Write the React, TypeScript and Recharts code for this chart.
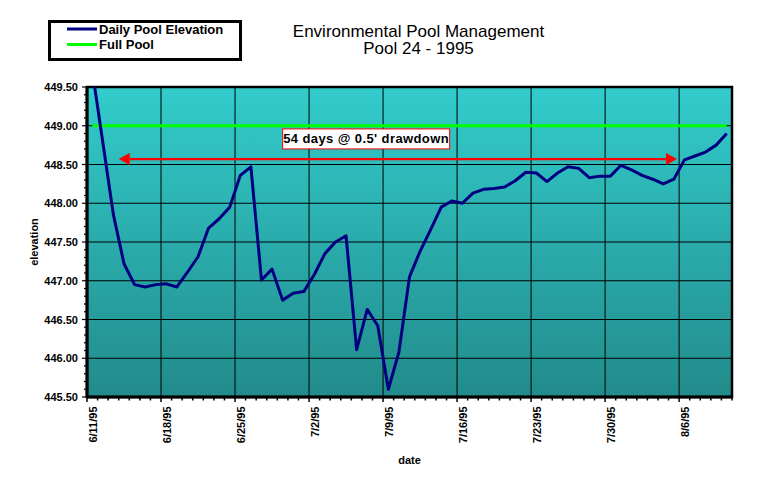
import {
  CartesianGrid,
  Label,
  Legend,
  Line,
  LineChart,
  ReferenceArea,
  ReferenceDot,
  ReferenceLine,
  XAxis,
  YAxis,
} from "recharts";

const FONT = "'Liberation Sans', Arial, Helvetica, sans-serif";

// one reading per day, starting 6/11/95
const elevation = [
  449.71, 448.78, 447.85, 447.22, 446.95, 446.92, 446.95, 446.96, 446.92, 447.11,
  447.31, 447.68, 447.8, 447.95, 448.36, 448.47, 447.01, 447.15, 446.75, 446.84,
  446.86, 447.08, 447.35, 447.5, 447.58, 446.11, 446.63, 446.42, 445.6, 446.08,
  447.05, 447.38, 447.66, 447.95, 448.03, 448.0, 448.13, 448.18, 448.19, 448.21,
  448.29, 448.4, 448.39, 448.28, 448.39, 448.47, 448.45, 448.33, 448.35, 448.35,
  448.49, 448.43, 448.36, 448.31, 448.25, 448.31, 448.56, 448.61, 448.66, 448.75,
  448.9,
];
const FULL_POOL = 449.0;

const dateLabels = [
  "6/11/95", "6/18/95", "6/25/95", "7/2/95", "7/9/95",
  "7/16/95", "7/23/95", "7/30/95", "8/6/95",
];
const xMajorTicks = [0, 7, 14, 21, 28, 35, 42, 49, 56];
const xDayTicks = Array.from({ length: 62 }, (_, i) => i);

const yMajorTicks = [445.5, 446, 446.5, 447, 447.5, 448, 448.5, 449, 449.5];
const yMinorTicks = Array.from({ length: 41 }, (_, i) => (4455 + i) / 10);

// drawdown annotation
const arrowFrom = 3;
const arrowTo = 55.8;
const arrowLevel = 448.57;
const noteText = "54 days @ 0.5' drawdown";
const noteDay = 26.4;
const noteLevel = 448.83;

// readings are plotted at mid-day
const data = elevation.map((v, i) => ({
  day: i + 0.5,
  elevation: v,
  fullPool: FULL_POOL,
}));

function XTick({ x, y, payload }: any) {
  const idx = xMajorTicks.indexOf(payload.value);
  const major = idx >= 0;
  const ax = x + 9.5;
  const ay = y + 9.5;
  return (
    <g>
      <line x1={x} y1={y} x2={x} y2={y + (major ? 5 : 3.5)} stroke="#000" strokeWidth={1.5} />
      {major && (
        <text
          x={ax}
          y={ay}
          transform={`rotate(-90 ${ax} ${ay})`}
          textAnchor="end"
          fontSize={11}
          fontWeight="bold"
          fontFamily={FONT}
          fill="#000"
        >
          {dateLabels[idx]}
        </text>
      )}
    </g>
  );
}

function YTick({ x, y, payload }: any) {
  const v = payload.value as number;
  const major = yMajorTicks.some((t) => Math.abs(t - v) < 1e-6);
  return (
    <g>
      <line x1={x - (major ? 5 : 3)} y1={y} x2={x} y2={y} stroke="#000" strokeWidth={1.2} />
      {major && (
        <text
          x={x - 9}
          y={y + 4}
          textAnchor="end"
          fontSize={11}
          fontWeight="bold"
          fontFamily={FONT}
          fill="#000"
        >
          {v.toFixed(2)}
        </text>
      )}
    </g>
  );
}

function DrawdownArrow(p: any) {
  const { x1, y1, x2, y2 } = p;
  const head = 11;
  const half = 6;
  return (
    <g>
      <line x1={x1 + head} y1={y1} x2={x2 - head} y2={y2} stroke="#FF0000" strokeWidth={2.2} />
      <polygon points={`${x1},${y1} ${x1 + head},${y1 - half} ${x1 + head},${y1 + half}`} fill="#FF0000" />
      <polygon points={`${x2},${y2} ${x2 - head},${y2 - half} ${x2 - head},${y2 + half}`} fill="#FF0000" />
    </g>
  );
}

function NoteBox(p: any) {
  const { cx, cy } = p;
  return (
    <g>
      <rect x={cx - 83.5} y={cy - 10} width={167} height={20} fill="#fff" stroke="#FF0000" strokeWidth={1} />
      <text
        x={cx}
        y={cy + 4.5}
        textAnchor="middle"
        fontSize={13}
        fontWeight="bold"
        fontFamily={FONT}
        letterSpacing={0.4}
        fill="#000"
      >
        {noteText}
      </text>
    </g>
  );
}

function LegendBox() {
  return (
    <svg width={194} height={41} style={{ display: "block" }}>
      <rect x={1.5} y={1.5} width={191} height={38} fill="#fff" stroke="#000" strokeWidth={3} />
      <line x1={19} y1={9} x2={49} y2={9} stroke="#000080" strokeWidth={3} />
      <line x1={19} y1={24.5} x2={49} y2={24.5} stroke="#00FF00" strokeWidth={3} />
      <text x={51} y={14} fontSize={13} fontWeight="bold" fontFamily={FONT} fill="#000">
        Daily Pool Elevation
      </text>
      <text x={51} y={29.3} fontSize={13} fontWeight="bold" fontFamily={FONT} fill="#000">
        Full Pool
      </text>
    </svg>
  );
}

export default function App() {
  return (
    <div style={{ position: "relative", width: 769, height: 481, background: "#fff" }}>
      <style>{"body{margin:0}"}</style>
      <svg
        width={769}
        height={70}
        style={{ position: "absolute", left: 0, top: 0, pointerEvents: "none" }}
      >
        <text x={418.5} y={36.5} textAnchor="middle" fontSize={17} fontFamily={FONT} fill="#000">
          Environmental Pool Management
        </text>
        <text x={418.5} y={54.3} textAnchor="middle" fontSize={17} fontFamily={FONT} fill="#000">
          Pool 24 - 1995
        </text>
      </svg>
      <LineChart
        width={769}
        height={481}
        data={data}
        margin={{ top: 87, right: 37, bottom: 0, left: 0 }}
      >
        <defs>
          <linearGradient id="plotBg" x1="0" y1="0" x2="0" y2="1">
            <stop offset="0%" stopColor="#33CCCC" />
            <stop offset="100%" stopColor="#228B8B" />
          </linearGradient>
        </defs>
        <CartesianGrid
          stroke="#000"
          strokeWidth={1}
          fill="url(#plotBg)"
          fillOpacity={1}
          horizontalValues={yMajorTicks}
          verticalValues={xMajorTicks}
        />
        <XAxis
          dataKey="day"
          type="number"
          domain={[0, 61]}
          ticks={xDayTicks}
          interval={0}
          allowDataOverflow
          height={84}
          tickSize={0}
          tickMargin={0}
          tickLine={false}
          tick={<XTick />}
          axisLine={{ stroke: "#000", strokeWidth: 3 }}
        >
          <Label
            content={({ viewBox }: any) => (
              <text
                x={viewBox.x + viewBox.width / 2}
                y={viewBox.y + 67}
                textAnchor="middle"
                fontSize={11}
                fontWeight="bold"
                fontFamily={FONT}
                fill="#000"
              >
                date
              </text>
            )}
          />
        </XAxis>
        <YAxis
          type="number"
          domain={[445.5, 449.5]}
          ticks={yMinorTicks}
          interval={0}
          allowDataOverflow
          width={87}
          tickSize={0}
          tickMargin={0}
          tickLine={false}
          tick={<YTick />}
          axisLine={{ stroke: "#000", strokeWidth: 3 }}
        >
          <Label
            content={({ viewBox }: any) => {
              const cx = 37.5;
              const cy = viewBox.y + viewBox.height / 2;
              return (
                <text
                  x={cx}
                  y={cy}
                  transform={`rotate(-90 ${cx} ${cy})`}
                  textAnchor="middle"
                  fontSize={11}
                  fontWeight="bold"
                  fontFamily={FONT}
                  fill="#000"
                >
                  elevation
                </text>
              );
            }}
          />
        </YAxis>
        <ReferenceArea
          x1={0}
          x2={61}
          y1={445.5}
          y2={449.5}
          fill="none"
          stroke="#000"
          strokeWidth={2.5}
        />
        <Line
          dataKey="fullPool"
          stroke="#00FF00"
          strokeWidth={3}
          dot={false}
          isAnimationActive={false}
        />
        <Line
          dataKey="elevation"
          stroke="#000080"
          strokeWidth={3}
          strokeLinejoin="round"
          dot={false}
          isAnimationActive={false}
        />
        <ReferenceLine
          segment={[
            { x: arrowFrom, y: arrowLevel },
            { x: arrowTo, y: arrowLevel },
          ]}
          shape={DrawdownArrow}
        />
        <ReferenceDot x={noteDay} y={noteLevel} r={1} shape={NoteBox} />
        <Legend
          layout="horizontal"
          verticalAlign="middle"
          align="center"
          content={() => <LegendBox />}
          wrapperStyle={{ position: "absolute", left: 48, top: 20, width: 194, height: 41 }}
        />
      </LineChart>
    </div>
  );
}
